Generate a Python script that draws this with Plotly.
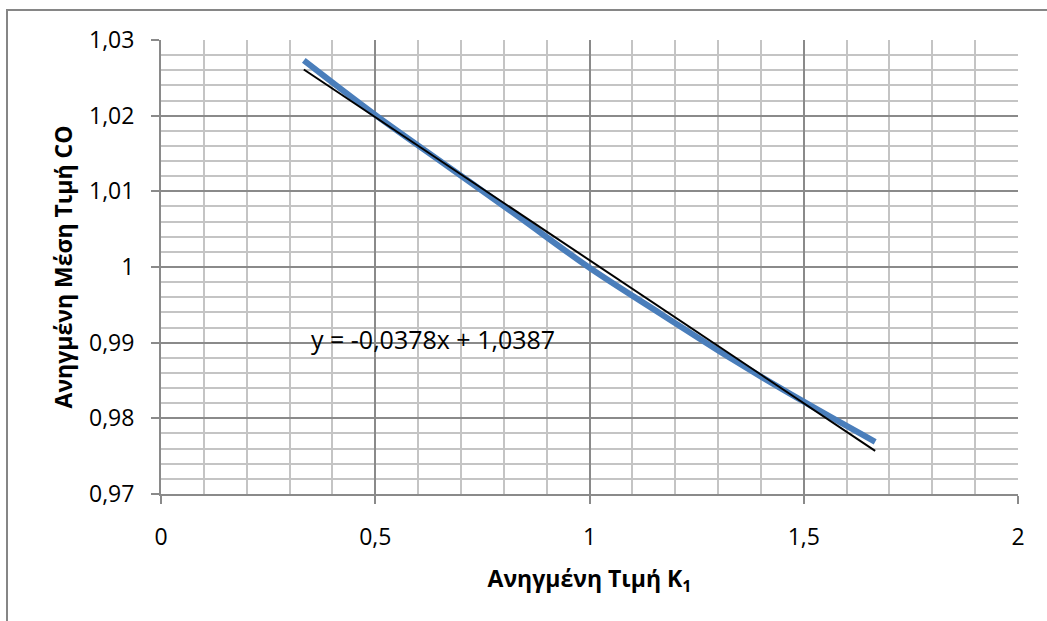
import plotly.graph_objects as go

# Data
k1_values = [1/3, 0.5, 2/3, 5/6, 1.0, 7/6, 4/3, 1.5, 5/3]
co_values = [1.0273, 1.0201, 1.0134, 1.0067, 0.9999, 0.9938, 0.9878, 0.9822, 0.9769]

trend_slope = -0.0378
trend_intercept = 1.0387

x_tick_vals = [0, 0.5, 1, 1.5, 2]
x_tick_text = ["0", "0,5", "1", "1,5", "2"]
y_tick_vals = [0.97, 0.98, 0.99, 1.0, 1.01, 1.02, 1.03]
y_tick_text = ["0,97", "0,98", "0,99", "1", "1,01", "1,02", "1,03"]

trend_x = [min(k1_values), max(k1_values)]
trend_y = [trend_slope * x + trend_intercept for x in trend_x]

FONT = "Open Sans"
MAJOR = "#8a8a8a"
MINOR = "#c4c4c4"

fig = go.Figure()
fig.add_trace(go.Scatter(
    x=k1_values, y=co_values, mode="lines",
    line=dict(color="#4a7ebb", width=6, shape="spline"),
    showlegend=False, hoverinfo="skip",
))
fig.add_trace(go.Scatter(
    x=trend_x, y=trend_y, mode="lines",
    line=dict(color="black", width=2),
    showlegend=False, hoverinfo="skip",
))

fig.update_layout(
    width=1047, height=621,
    margin=dict(l=161, r=29, t=40, b=127),
    paper_bgcolor="white", plot_bgcolor="white",
    font=dict(family=FONT, size=23, color="black"),
    xaxis=dict(
        range=[0, 2], tickvals=x_tick_vals, ticktext=x_tick_text,
        showgrid=True, gridcolor=MAJOR, gridwidth=2,
        minor=dict(dtick=0.1, showgrid=True, gridcolor=MINOR, gridwidth=2, ticks=""),
        showline=True, linecolor=MAJOR, linewidth=2,
        ticks="outside", ticklen=8, tickwidth=2, tickcolor=MAJOR,
        ticklabelstandoff=13,
        zeroline=False, fixedrange=True,
        title=dict(text="<b>Ανηγμένη Τιμή K<sub>1</sub></b>", font=dict(size=23), standoff=20),
    ),
    yaxis=dict(
        range=[0.97, 1.03], tickvals=y_tick_vals, ticktext=y_tick_text,
        showgrid=True, gridcolor=MAJOR, gridwidth=2,
        minor=dict(dtick=0.002, showgrid=True, gridcolor=MINOR, gridwidth=2, ticks=""),
        showline=True, linecolor=MAJOR, linewidth=2,
        ticks="outside", ticklen=8, tickwidth=2, tickcolor=MAJOR,
        ticklabelstandoff=12,
        zeroline=False, fixedrange=True,
        title=dict(text="<b>Ανηγμένη Μέση Τιμή CO</b>", font=dict(size=23), standoff=10),
    ),
    annotations=[dict(
        x=0.345, y=0.9905, xref="x", yref="y",
        text="y = -0,0378x + 1,0387", showarrow=False,
        xanchor="left", yanchor="middle",
        font=dict(family=FONT, size=25, color="black"),
    )],
    shapes=[dict(
        type="rect", xref="paper", yref="paper",
        x0=(7 - 161) / 857, x1=1.2, y0=-0.5, y1=(494 - 10) / 454,
        line=dict(color="#868686", width=2), fillcolor="rgba(0,0,0,0)",
        layer="below",
    )],
)

fig.write_html("out.html")
